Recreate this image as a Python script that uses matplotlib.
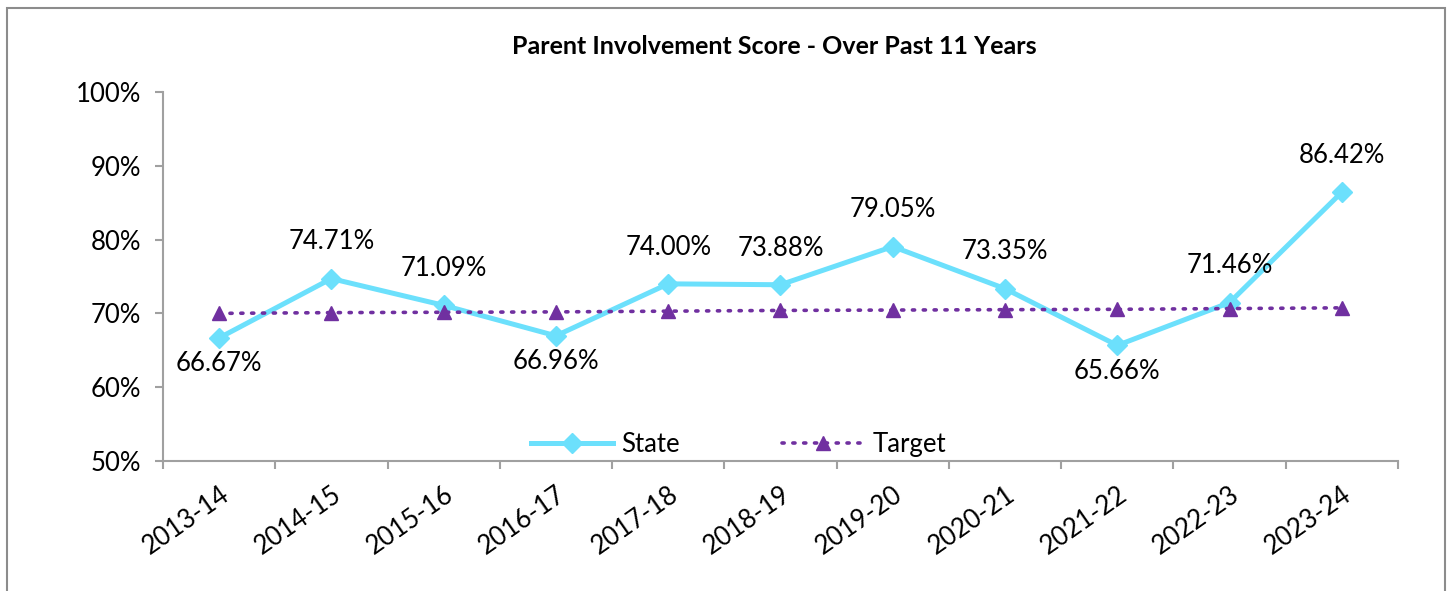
import matplotlib
matplotlib.use('Agg')
import matplotlib.pyplot as plt
from matplotlib.patches import Rectangle
from matplotlib.ticker import FixedLocator, PercentFormatter

years = ['2013-14', '2014-15', '2015-16', '2016-17', '2017-18', '2018-19',
         '2019-20', '2020-21', '2021-22', '2022-23', '2023-24']
state = [66.67, 74.71, 71.09, 66.96, 74.00, 73.88, 79.05, 73.35, 65.66, 71.46, 86.42]
target = [70.0, 70.1, 70.15, 70.2, 70.3, 70.4, 70.45, 70.5, 70.55, 70.65, 70.75]
# where each State label sits relative to its point
label_pos = ['below', 'above', 'above', 'below', 'above', 'above',
             'above', 'above', 'below', 'above', 'above']

plt.rcParams['font.family'] = ['Lato', 'DejaVu Sans']

fig = plt.figure(figsize=(14.5, 5.91), dpi=100)
ax = fig.add_axes([0.1124, 0.2200, 0.8517, 0.6244])

# outer chart border (bottom edge cut off like the reference)
fig.patches.append(Rectangle((0.005, -0.1), 0.9915, 1.0865, transform=fig.transFigure,
                             fill=False, edgecolor='#8c8c8c', linewidth=1.5))

x = list(range(len(years)))
ax.plot(x, state, color='#6ce0fc', linewidth=3.6, marker='D', markersize=10,
        label='State', solid_joinstyle='miter')
ax.plot(x, target, color='#7030a0', linewidth=2.6, linestyle=(0, (0.6, 2.4)),
        dash_capstyle='round', marker='^', markersize=10, label='Target')

for xi, v, pos in zip(x, state, label_pos):
    dy = 21 if pos == 'above' else -24
    ax.annotate(f'{v:.2f}%', (xi, v), xytext=(0, dy), textcoords='offset points',
                ha='center', va='baseline', fontsize=18.5, color='black')

ax.set_xlim(-0.5, len(years) - 0.5)
ax.set_ylim(50, 100)
ax.set_yticks(range(50, 101, 10))
ax.yaxis.set_major_formatter(PercentFormatter(decimals=0))
ax.set_xticks(x)
ax.set_xticklabels(years, rotation=35, ha='right', rotation_mode='anchor', fontsize=18.5)
ax.xaxis.set_minor_locator(FixedLocator([i - 0.5 for i in range(len(years) + 1)]))
ax.tick_params(axis='x', which='major', length=0, pad=15)
ax.tick_params(axis='x', which='minor', length=6, width=1.5, color='#a0a0a0')
ax.tick_params(axis='y', length=6, width=1.5, color='#a0a0a0', labelsize=18.5, pad=10)

for side in ['top', 'right']:
    ax.spines[side].set_visible(False)
for side in ['left', 'bottom']:
    ax.spines[side].set_color('#a0a0a0')
    ax.spines[side].set_linewidth(1.5)

fig.text(0.534, 0.922, 'Parent Involvement Score - Over Past 11 Years',
         ha='center', va='center', fontsize=18, fontweight='bold')

ax.legend(loc='center', bbox_to_anchor=(0.466, 0.046), ncol=2, frameon=False,
          fontsize=18.5, handlelength=3.2, columnspacing=4, handletextpad=0.3)

fig.savefig('out.png', dpi=100)
